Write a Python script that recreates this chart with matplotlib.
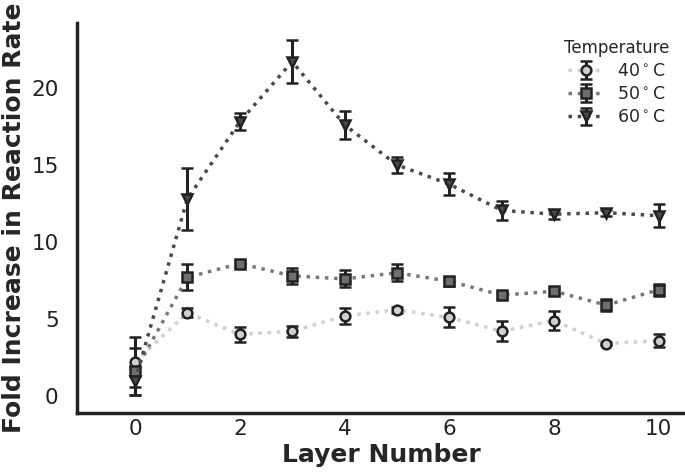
import numpy as np
import matplotlib
matplotlib.use('Agg')
import matplotlib.pyplot as plt
import seaborn as sns

# Data
layers = np.arange(0, 11)
labels = ['40$^\\circ$C', '50$^\\circ$C', '60$^\\circ$C']

t40 = [2.2, 5.4, 4.0, 4.2, 5.2, 5.6, 5.1, 4.2, 4.9, 3.4, 3.6]
t40_err = [1.6, 0.3, 0.5, 0.35, 0.5, 0.2, 0.65, 0.65, 0.6, 0.1, 0.4]
t50 = [1.6, 7.7, 8.6, 7.8, 7.6, 8.0, 7.45, 6.55, 6.8, 5.9, 6.9]
t50_err = [1.5, 0.85, 0.25, 0.5, 0.55, 0.55, 0.3, 0.2, 0.2, 0.4, 0.4]
t60 = [1.0, 12.8, 17.8, 21.7, 17.6, 15.0, 13.75, 12.05, 11.8, 11.9, 11.7]
t60_err = [0.9, 2.0, 0.55, 1.4, 0.9, 0.5, 0.7, 0.6, 0.3, 0.2, 0.75]

series = [(t40, t40_err, 'o', '#d0d0d0', '#d0d0d0'),
          (t50, t50_err, 's', '#777777', '#6e6e6e'),
          (t60, t60_err, 'v', '#4a4a4a', '#4a4a4a')]

sns.set_style('white')
fig = plt.figure(figsize=(6.85, 4.72), dpi=100)
ax = fig.add_axes([0.113, 0.125, 0.887, 0.826])

for (vals, errs, mk, lc, fc), lab in zip(series, labels):
    ax.errorbar(layers, vals, yerr=errs, fmt=mk, linestyle=':', color=lc,
                linewidth=2.5, markersize=7, markerfacecolor=fc,
                markeredgecolor='#222222', markeredgewidth=1.8,
                ecolor='#222222', elinewidth=2.2, capsize=4, capthick=2.2,
                label=lab)

ax.set_xlim(-1.1, 10.5)
ax.set_ylim(-1.1, 24.2)
ax.set_xticks([0, 2, 4, 6, 8, 10])
ax.set_yticks([0, 5, 10, 15, 20])
ax.tick_params(labelsize=15.5, colors='#222222')
ax.tick_params(axis='x', pad=1)
ax.tick_params(axis='y', pad=10)
ax.set_xlabel('Layer Number', fontsize=18, fontweight='bold', labelpad=3)
ax.set_ylabel('Fold Increase in Reaction Rate', fontsize=18, fontweight='bold', labelpad=4)

for s in ['top', 'right']:
    ax.spines[s].set_visible(False)
for s in ['left', 'bottom']:
    ax.spines[s].set_linewidth(2.5)
    ax.spines[s].set_color('#222222')

leg = ax.legend(title='Temperature', loc='upper right', frameon=False,
                fontsize=12.5, title_fontsize=12, bbox_to_anchor=(1.0, 1.0),
                labelspacing=0.3)

fig.savefig('out.png', dpi=100)
